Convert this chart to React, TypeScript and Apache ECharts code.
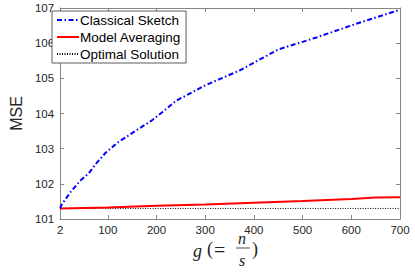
import React, { useEffect, useRef } from "react";
import * as echarts from "echarts";

const xTicks = [2, 100, 200, 300, 400, 500, 600, 700];
const yTicks = [101, 102, 103, 104, 105, 106, 107];

const sketchX = [2, 5, 22, 42, 62, 75, 96, 120, 156, 190, 213, 240, 300, 370, 450, 530, 610, 700];
const sketchY = [101.3, 101.4, 101.74, 102.07, 102.32, 102.56, 102.89, 103.17, 103.5, 103.8, 104.05, 104.36, 104.8, 105.22, 105.82, 106.17, 106.55, 106.95];

const avgX = [2, 100, 200, 300, 400, 500, 600, 650, 700];
const avgY = [101.3, 101.33, 101.38, 101.41, 101.46, 101.51, 101.57, 101.61, 101.62];

const optX = [2, 700];
const optY = [101.3, 101.3];

const names = ["Classical Sketch", "Model Averaging", "Optimal Solution"];

const zip = (xs: number[], ys: number[]) => xs.map((x, i) => [x, ys[i]]);

export default function App() {
  const ref = useRef<HTMLDivElement>(null);
  useEffect(() => {
    document.body.style.margin = "0";
    const chart = echarts.init(ref.current!, null, { renderer: "svg" });
    const axisColor = "#858585";
    const labelFont = { fontFamily: "Liberation Sans", fontSize: 11.5, color: "#262626" };
    const serif = "Liberation Serif";
    chart.setOption({
      animation: false,
      backgroundColor: "#fff",
      grid: { left: 51, right: 15, top: 8, bottom: 53 },
      xAxis: [
        {
          type: "value",
          min: 2,
          max: 700,
          axisLine: { lineStyle: { color: axisColor, width: 1 } },
          axisTick: { inside: true, length: 4, customValues: xTicks, lineStyle: { color: axisColor } },
          axisLabel: { customValues: xTicks, margin: 5, ...labelFont },
          splitLine: { show: false },
        },
        {
          type: "value",
          position: "top",
          min: 2,
          max: 700,
          axisLine: { show: true, lineStyle: { color: axisColor, width: 1 } },
          axisTick: { inside: true, length: 4, customValues: xTicks, lineStyle: { color: axisColor } },
          axisLabel: { show: false },
          splitLine: { show: false },
        },
      ],
      yAxis: [
        {
          type: "value",
          min: yTicks[0],
          max: yTicks[yTicks.length - 1],
          interval: 1,
          axisLine: { show: true, lineStyle: { color: axisColor, width: 1 } },
          axisTick: { show: true, inside: true, length: 4, lineStyle: { color: axisColor } },
          axisLabel: { margin: 6, ...labelFont },
          splitLine: { show: false },
          name: "MSE",
          nameLocation: "middle",
          nameGap: 31,
          nameTextStyle: { fontFamily: "Liberation Sans", fontSize: 16, color: "#262626" },
        },
        {
          type: "value",
          position: "right",
          min: yTicks[0],
          max: yTicks[yTicks.length - 1],
          interval: 1,
          axisLine: { show: true, lineStyle: { color: axisColor, width: 1 } },
          axisTick: { show: true, inside: true, length: 4, lineStyle: { color: axisColor } },
          axisLabel: { show: false },
          splitLine: { show: false },
        },
      ],
      legend: {
        orient: "vertical",
        left: 52,
        top: 11,
        data: names,
        backgroundColor: "#fff",
        borderColor: "#333",
        borderWidth: 0.8,
        borderRadius: 0,
        padding: [2, 5, 2, 4],
        itemGap: 3,
        itemWidth: 22,
        itemHeight: 12,
        itemStyle: { color: "transparent", borderColor: "transparent", borderWidth: 0, opacity: 0 },
        textStyle: { fontFamily: "Liberation Sans", fontSize: 13.5, color: "#000", padding: [0, 0, 0, -4] },
      },
      series: [
        {
          name: names[2],
          type: "line",
          data: zip(optX, optY),
          showSymbol: false,
          symbol: "none",
          lineStyle: { color: "#000", width: 1, type: [1, 1.5] },
          itemStyle: { color: "#000" },
          z: 2,
        },
        {
          name: names[1],
          type: "line",
          data: zip(avgX, avgY),
          showSymbol: false,
          symbol: "none",
          lineStyle: { color: "#ff0000", width: 2 },
          itemStyle: { color: "#ff0000" },
          z: 3,
        },
        {
          name: names[0],
          type: "line",
          data: zip(sketchX, sketchY),
          showSymbol: false,
          symbol: "none",
          lineStyle: { color: "#0000ff", width: 2, type: [5, 2.5, 1.5, 2.5] },
          itemStyle: { color: "#0000ff" },
          z: 4,
        },
      ],
      graphic: [
        { type: "text", left: 193, top: 242, style: { text: "g", font: `italic 18px "${serif}"`, fill: "#222" } },
        { type: "text", left: 207, top: 240, style: { text: "(", font: `18px "${serif}"`, fill: "#222" } },
        { type: "text", left: 214, top: 240, style: { text: "=", font: `20px "${serif}"`, fill: "#222" } },
        { type: "text", left: 238, top: 230, style: { text: "n", font: `italic 16px "${serif}"`, fill: "#222" } },
        { type: "line", shape: { x1: 236, y1: 248, x2: 250, y2: 248 }, style: { stroke: "#222", lineWidth: 0.8 } },
        { type: "text", left: 239, top: 252, style: { text: "s", font: `italic 16px "${serif}"`, fill: "#222" } },
        { type: "text", left: 252, top: 240, style: { text: ")", font: `18px "${serif}"`, fill: "#222" } },
      ],
    });
    return () => chart.dispose();
  }, []);
  return <div ref={ref} style={{ width: 415, height: 272 }} />;
}
